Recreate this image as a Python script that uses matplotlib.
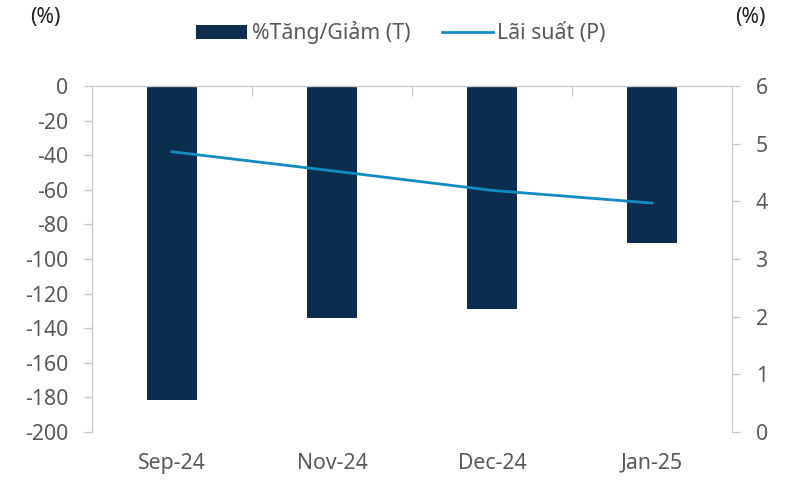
import matplotlib
matplotlib.use("Agg")
import matplotlib.pyplot as plt
from matplotlib.ticker import FixedLocator

categories = ["Sep-24", "Nov-24", "Dec-24", "Jan-25"]
change_pct = [-181.5, -134, -129, -90.5]
interest = [4.86, 4.53, 4.19, 3.97]
left_ticks = [0, -20, -40, -60, -80, -100, -120, -140, -160, -180, -200]
right_ticks = [0, 1, 2, 3, 4, 5, 6]

bar_color = "#0d2d4f"
line_color = "#118cc2"
text_color = "#595959"
axis_color = "#c8c8c8"
fs = 15.3

plt.rcParams['font.family'] = ['Noto Sans', 'DejaVu Sans']
fig = plt.figure(figsize=(7.9, 4.86), dpi=100)
ax = fig.add_axes([92/790, 1-432/486, (732-92)/790, (432-86)/486])
x = list(range(len(categories)))
bars = ax.bar(x, change_pct, width=0.31, color=bar_color, label="%Tăng/Giảm (T)", zorder=2)
ax.set_xlim(-0.5, len(categories)-0.5)
ax.set_ylim(-200, 0)
ax.set_yticks(left_ticks)
ax.set_yticklabels([str(t) for t in left_ticks])
ax.set_xticks(x)
ax.set_xticklabels(categories)
ax.xaxis.set_minor_locator(FixedLocator([0.5, 1.5, 2.5]))
ax.tick_params(axis='x', which='major', length=0, pad=15, labelsize=fs, colors=text_color)
ax.tick_params(axis='x', which='minor', bottom=False, top=True, direction='in', length=7, color=axis_color, width=1)
ax.tick_params(axis='y', length=6, width=1, color=axis_color, labelsize=fs, labelcolor=text_color, pad=11)
for s in ['bottom', 'right']:
    ax.spines[s].set_visible(False)
for s in ['top', 'left']:
    ax.spines[s].set_color(axis_color)
    ax.spines[s].set_linewidth(1)

ax2 = ax.twinx()
ln, = ax2.plot(x, interest, color=line_color, lw=2, label="Lãi suất (P)", zorder=3)
ax2.set_ylim(0, 6)
ax2.set_yticks(right_ticks)
ax2.tick_params(axis='y', length=6, width=1, color=axis_color, labelsize=fs, labelcolor=text_color, pad=11)
for s in ['top', 'bottom', 'left']:
    ax2.spines[s].set_visible(False)
ax2.spines['right'].set_color(axis_color)

fig.text(45/790, 1-18/486, "(%)", ha='center', va='center', fontsize=fs, color='#222222')
fig.text(750/790, 1-18/486, "(%)", ha='center', va='center', fontsize=fs, color='#222222')

leg = fig.legend([bars, ln], ["%Tăng/Giảm (T)", "Lãi suất (P)"], loc='center', bbox_to_anchor=(401/790, 1-33/486),
                 ncol=2, frameon=False, fontsize=fs, handlelength=2.4, handleheight=0.58,
                 columnspacing=1.5, handletextpad=0.2, labelcolor=text_color)

fig.savefig("out.png", dpi=100)
